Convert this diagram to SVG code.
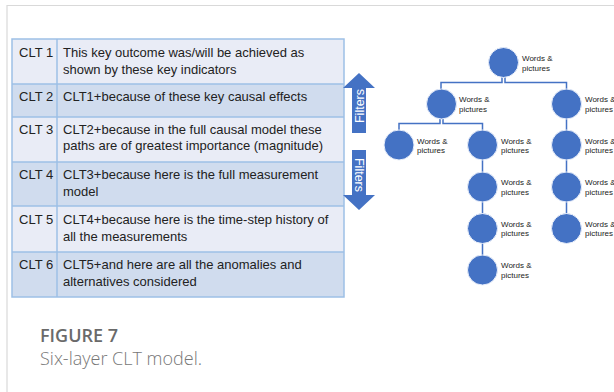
<svg xmlns="http://www.w3.org/2000/svg" width="614" height="392" viewBox="0 0 614 392">
<style>
.frame{stroke:#d9d9d9;stroke-width:1.2;fill:none}
.light{fill:#e9ecf6}
.dark{fill:#d0dcee}
.grid{stroke:#9dc0e6;stroke-width:1.5;fill:none}
.t{font-family:"Liberation Sans",Arial,sans-serif;font-size:13px;fill:#222}
.arr{fill:#4472c4}
.ft{font-family:"Liberation Sans",Arial,sans-serif;font-size:12.5px;fill:#fff;text-anchor:middle;dominant-baseline:central}
.node circle{fill:#4472c4;stroke:#e8eefa;stroke-width:1}
.node text{font-family:"Liberation Sans",Arial,sans-serif;font-size:8px;fill:#222}
.conn{stroke:#4472c4;stroke-width:1.5;fill:none}
.cap1{font-family:"Open Sans","Liberation Sans",sans-serif;font-size:18px;font-weight:600;fill:#6a6a6a}
.cap2{font-family:"Open Sans","Liberation Sans",sans-serif;font-size:18px;font-weight:300;fill:#777}
</style>
<rect width="614" height="392" fill="#fff"/>
<path class="frame" d="M7,392 V5.5 H614"/>

<g id="table">
<rect class="light" x="12" y="39" width="332" height="45"/>
<rect class="dark" x="12" y="84" width="332" height="33"/>
<rect class="light" x="12" y="117" width="332" height="45"/>
<rect class="dark" x="12" y="162" width="332" height="44"/>
<rect class="light" x="12" y="206" width="332" height="46"/>
<rect class="dark" x="12" y="252" width="332" height="45"/>
<path class="grid" d="M12,39 H344 V297 H12 Z M57,39 V297 M12,84 H344 M12,117 H344 M12,162 H344 M12,206 H344 M12,252 H344"/>
<g id="row1"><text class="t" x="19" y="57">CLT 1</text><text class="t" x="63" y="57">This key outcome was/will be achieved as</text><text class="t" x="63" y="73.5">shown by these key indicators</text></g>
<g id="row2"><text class="t" x="19" y="101">CLT 2</text><text class="t" x="63" y="101">CLT1+because of these key causal effects</text></g>
<g id="row3"><text class="t" x="19" y="133.5">CLT 3</text><text class="t" x="63" y="133.5">CLT2+because in the full causal model these</text><text class="t" x="63" y="150">paths are of greatest importance (magnitude)</text></g>
<g id="row4"><text class="t" x="19" y="178.5">CLT 4</text><text class="t" x="63" y="178.5">CLT3+because here is the full measurement</text><text class="t" x="63" y="195.5">model</text></g>
<g id="row5"><text class="t" x="19" y="223.5">CLT 5</text><text class="t" x="63" y="223.5">CLT4+because here is the time-step history of</text><text class="t" x="63" y="240.5">all the measurements</text></g>
<g id="row6"><text class="t" x="19" y="268.5">CLT 6</text><text class="t" x="63" y="268.5">CLT5+and here are all the anomalies and</text><text class="t" x="63" y="285.5">alternatives considered</text></g>
</g>

<g id="filters-up">
<path class="arr" d="M359,73 L375,88 H366 V133 H352 V88 H343 Z"/>
<text class="ft" transform="translate(359.5,106) rotate(-90)">Filters</text>
</g>
<g id="filters-down">
<path class="arr" d="M352,150 H366 V195 H375 L359,210 L343,195 H352 Z"/>
<text class="ft" transform="translate(358.5,175) rotate(90)">Filters</text>
</g>

<g id="connectors">
<path class="conn" d="M502,77 V82.5 H441 V89"/>
<path class="conn" d="M505,77 V82.5 H566.5 V89"/>
<path class="conn" d="M440,118 V123.5 H399 V130"/>
<path class="conn" d="M443,118 V123.5 H482.5 V130"/>
<path class="conn" d="M482.5,160 V172 M482.5,202 V213 M482.5,243 V255"/>
<path class="conn" d="M566.5,119 V130 M566.5,160 V172 M566.5,202 V213"/>
</g>

<g id="n-root" class="node"><circle cx="503.5" cy="62.5" r="15"/><text x="522" y="61">Words &amp;</text><text x="522" y="70.5">pictures</text></g>
<g id="n-l" class="node"><circle cx="441.5" cy="104" r="15"/><text x="459" y="102">Words &amp;</text><text x="459" y="111.5">pictures</text></g>
<g id="n-r" class="node"><circle cx="566.5" cy="104" r="15"/><text x="585" y="102">Words &amp;</text><text x="585" y="111.5">pictures</text></g>
<g id="n-ll" class="node"><circle cx="399" cy="145" r="15"/><text x="417" y="143.5">Words &amp;</text><text x="417" y="153">pictures</text></g>
<g id="n-lr" class="node"><circle cx="482.5" cy="145" r="15"/><text x="501" y="143.5">Words &amp;</text><text x="501" y="153">pictures</text></g>
<g id="n-r2" class="node"><circle cx="566.5" cy="145" r="15"/><text x="585" y="143.5">Words &amp;</text><text x="585" y="153">pictures</text></g>
<g id="n-lr2" class="node"><circle cx="482.5" cy="187" r="15"/><text x="501" y="185">Words &amp;</text><text x="501" y="194.5">pictures</text></g>
<g id="n-r3" class="node"><circle cx="566.5" cy="187" r="15"/><text x="585" y="185">Words &amp;</text><text x="585" y="194.5">pictures</text></g>
<g id="n-lr3" class="node"><circle cx="482.5" cy="228.5" r="15"/><text x="501" y="226.5">Words &amp;</text><text x="501" y="236">pictures</text></g>
<g id="n-r4" class="node"><circle cx="566.5" cy="228.5" r="15"/><text x="585" y="226.5">Words &amp;</text><text x="585" y="236">pictures</text></g>
<g id="n-lr4" class="node"><circle cx="482.5" cy="270" r="15"/><text x="501" y="268">Words &amp;</text><text x="501" y="277.5">pictures</text></g>

<g id="caption">
<text class="cap1" x="40" y="341.5">FIGURE 7</text>
<text class="cap2" x="40" y="365">Six-layer CLT model.</text>
</g>
</svg>
